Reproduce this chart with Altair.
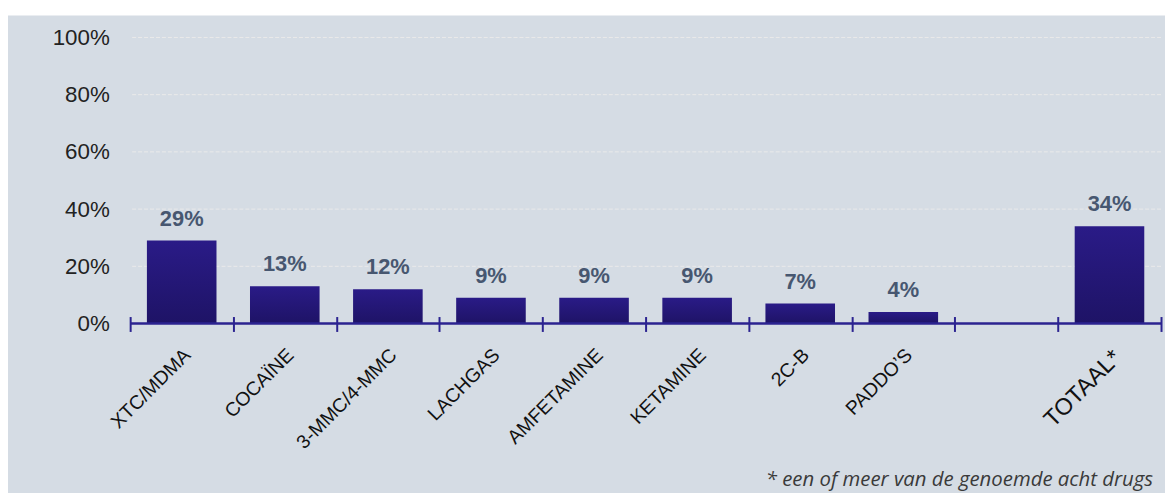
import altair as alt
import pandas as pd

categories = ["XTC/MDMA", "COCAÏNE", "3-MMC/4-MMC", "LACHGAS", "AMFETAMINE",
              "KETAMINE", "2C-B", "PADDO’S", " ", "TOTAAL*"]
bar_categories = ["XTC/MDMA", "COCAÏNE", "3-MMC/4-MMC", "LACHGAS", "AMFETAMINE",
                  "KETAMINE", "2C-B", "PADDO’S", "TOTAAL*"]
values = [0.29, 0.13, 0.12, 0.09, 0.09, 0.09, 0.07, 0.04, 0.34]
labels = ["29%", "13%", "12%", "9%", "9%", "9%", "7%", "4%", "34%"]
y_ticks = [0, 0.2, 0.4, 0.6, 0.8, 1.0]
grid_values = [0.2, 0.4, 0.6, 0.8, 1.0]
footnote = "* een of meer van de genoemde acht drugs"

df = pd.DataFrame({"cat": bar_categories, "val": values, "lab": labels})

W, H = 1038, 288
PL, PT, PR, PB = 123, 28, 4, 169

navy = "#2b2390"

x_scale = alt.Scale(domain=categories, paddingInner=0, paddingOuter=0)
y_scale = alt.Scale(domain=[0, 1])

x_axis = alt.Axis(
    title=None, labelAngle=-45, tickBand="extent", domain=False,
    tickSize=15, tickColor=navy, tickWidth=2, offset=-7,
    labelPadding=14, labelOffset=-1,
    labelFont="Liberation Sans", labelColor="#111111",
    labelFontSize={"condition": {"test": "datum.value == 'TOTAAL*'", "value": 23.5}, "value": 19.5},
    grid=False, zindex=2,
)
y_axis = alt.Axis(
    title=None, values=y_ticks, format=".0%", domain=False, ticks=False,
    labelPadding=21, labelFont="Liberation Sans", labelFontSize=22.5,
    labelColor="#222222", grid=False, zindex=2,
)

bg = alt.Chart(pd.DataFrame({"a": [0]})).mark_rect(color="#d5dce4").encode(
    x=alt.value(-PL), x2=alt.value(W + PR + 50),
    y=alt.value(-22), y2=alt.value(H + PB + 50),
)

grid = alt.Chart(pd.DataFrame({"g": grid_values})).mark_rule(
    color="#eaeaea", strokeDash=[4, 2], strokeWidth=1,
).encode(y=alt.Y("g:Q", scale=y_scale, axis=y_axis))

grad = alt.Gradient(
    gradient="linear",
    stops=[alt.GradientStop(color="#2a1b87", offset=0),
           alt.GradientStop(color="#1e1366", offset=1)],
    x1=1, x2=1, y1=0, y2=1,
)

bars = alt.Chart(df).mark_bar(color=grad, width=alt.RelativeBandSize(0.675)).encode(
    x=alt.X("cat:N", scale=x_scale, axis=x_axis, sort=categories),
    y=alt.Y("val:Q", scale=y_scale, axis=y_axis),
)

text = alt.Chart(df).mark_text(
    font="Liberation Sans", fontWeight="bold", fontSize=22, color="#475770",
    baseline="alphabetic", dy=-15,
).encode(
    x=alt.X("cat:N", scale=x_scale, sort=categories),
    y=alt.Y("val:Q", scale=y_scale),
    text="lab:N",
)

base_line = alt.Chart(pd.DataFrame({"a": [0]})).mark_rule(color=navy, strokeWidth=2.5).encode(
    y=alt.value(H),
)

note = alt.Chart(pd.DataFrame({"t": [footnote]})).mark_text(
    font="Open Sans", fontStyle="italic", fontSize=20.5, color="#3a3a3a",
    align="left", baseline="alphabetic",
).encode(
    x=alt.value(640), y=alt.value(452), text="t:N",
)

chart = alt.layer(bg, grid, bars, text, base_line, note).properties(
    width=W, height=H,
    autosize=alt.AutoSizeParams(type="none"),
    padding={"left": PL, "top": PT, "right": PR, "bottom": PB},
    background="white",
).configure_view(stroke=None)

chart.save("out.html", embed_options={"renderer": "svg", "actions": False})
